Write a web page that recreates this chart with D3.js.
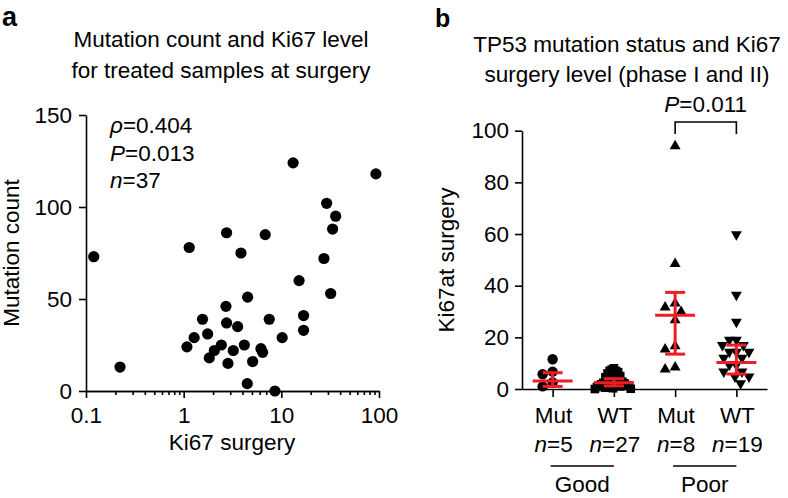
<!DOCTYPE html>
<html>
<head>
<meta charset="utf-8">
<script src="https://cdn.jsdelivr.net/npm/d3@7"></script>
<style>
  html, body { margin: 0; padding: 0; background: #fff; }
  svg { display: block; font-family: "Liberation Sans", Arial, Helvetica, sans-serif; }
</style>
</head>
<body>
<svg id="chart" width="788" height="498"></svg>
<script>
// ---------- Panel a data ----------
const ki67Surgery = [0.12,1.14,2.75,3.86,6.84,13.2,93,29.1,36,33.5,27.3,15.2,32,4.52,0.223,1.56,2.71,2.75,3.57,1.76,1.28,1.08,2.43,2.06,1.83,3.22,2.84,4.18,5.08,6.18,6.43,7.52,10.2,16.9,16.9,4.48,8.6];
const mutationCount = [73,78,86,75,85,124,118,102,95,88,72,60,53,51,13,39,46,37,35,31,29,24,25,22,18,22,15,25,16,23,21,39,29,41,33,4,0];
const aYTicks = [0, 50, 100, 150];
const aXTicks = [0.1, 1, 10, 100];
const aXTickLabels = ["0.1", "1", "10", "100"];
const aStats = [["ρ", "=0.404"], ["P", "=0.013"], ["n", "=37"]];

// ---------- Panel b data ----------
const bCategories = ["Mut", "WT", "Mut", "WT"];
const bCounts = ["5", "27", "8", "19"];
const bResponse = ["Good", "Poor"];
const mutGood = [11.5, 6.7, 5.7, 2.5, 1.0];
const wtGood = [8, 7.5, 7, 7, 6.5, 6, 5, 4.5, 4, 3.5, 3, 3, 2.8, 2.5, 2.4, 2.2, 2, 1.8, 1.5, 1.3, 1.2, 1, 0.8, 0.5, 0.3, 0.1, 0];
const mutPoor = [94, 48.5, 33.2, 31.6, 29.9, 26.7, 16.6, 15.4, 8.4, 7.6];
const wtPoor = [59.8, 36.4, 26, 19, 19, 17, 17, 14.4, 14.4, 14.4, 12, 12, 9.3, 9.3, 6.7, 6.7, 4.8, 4.8, 2.2];
const bMedian = [3.1, 2.4, 28.6, 10.3];
const bLower = [1.0, 1.2, 13.5, 5.8];
const bUpper = [6.3, 4.0, 37.4, 17.0];
const bYTicks = [0, 20, 40, 60, 80, 100];
const bPValue = "=0.011";

const svg = d3.select("#chart");
const FONT = 22.5;
const RED = "#ee1c25";

// ================= Panel a =================
const ax = d3.scaleLog().domain([0.1, 100]).range([86, 379]);
const ay = d3.scaleLinear().domain([0, 150]).range([391, 115]);

svg.append("text").attr("x", 2).attr("y", 26).attr("font-size", 27).attr("font-weight", "bold").text("a");
const aTitle = svg.append("text").attr("text-anchor", "middle").attr("font-size", FONT);
aTitle.append("tspan").attr("x", 221).attr("y", 47).text("Mutation count and Ki67 level");
aTitle.append("tspan").attr("x", 221).attr("y", 78).text("for treated samples at surgery");

function styleAxis(g) {
  g.selectAll("path, line").attr("stroke", "#000").attr("stroke-width", 1.6);
  g.selectAll("text").attr("font-size", FONT).attr("font-family", "Liberation Sans, Arial, sans-serif").attr("fill", "#000");
}

svg.append("g").attr("transform", "translate(86,0)")
  .call(d3.axisLeft(ay).tickValues(aYTicks).tickSize(7).tickPadding(7).tickSizeOuter(0))
  .call(styleAxis);

// minor log ticks
const minor = [];
for (let dec = 0.1; dec < 100; dec *= 10) for (let m = 2; m <= 9; m++) minor.push(+(dec * m).toPrecision(3));
svg.append("g").attr("transform", "translate(0,391)")
  .call(d3.axisBottom(ax).tickValues(minor).tickSize(4).tickFormat("").tickSizeOuter(0))
  .call(styleAxis);
svg.append("g").attr("transform", "translate(0,391)")
  .call(d3.axisBottom(ax).tickValues(aXTicks).tickSize(7).tickPadding(9).tickSizeOuter(0)
    .tickFormat((d, i) => aXTickLabels[i]))
  .call(styleAxis);

svg.append("text").attr("x", 232).attr("y", 450).attr("text-anchor", "middle").attr("font-size", FONT).text("Ki67 surgery");
svg.append("text").attr("transform", "translate(19,253) rotate(-90)").attr("text-anchor", "middle").attr("font-size", FONT).text("Mutation count");

const st = svg.append("g").attr("font-size", FONT);
aStats.forEach((s, i) => {
  const t = st.append("text").attr("x", 110).attr("y", 133 + i * 27.5);
  t.append("tspan").attr("font-style", "italic").text(s[0]);
  t.append("tspan").text(s[1]);
});

svg.append("g").selectAll("circle")
  .data(ki67Surgery.map((k, i) => ({ k, m: mutationCount[i] })))
  .join("circle")
  .attr("cx", d => ax(d.k)).attr("cy", d => ay(d.m)).attr("r", 5.6).attr("fill", "#000");

// ================= Panel b =================
const bx = d3.scalePoint().domain(d3.range(bCategories.length)).range([522, 767]).padding(0.5);
const by = d3.scaleLinear().domain([0, 100]).range([389, 130.7]);

svg.append("text").attr("x", 435).attr("y", 27).attr("font-size", 25).attr("font-weight", "bold").text("b");
const bTitle = svg.append("text").attr("text-anchor", "middle").attr("font-size", FONT);
bTitle.append("tspan").attr("x", 627).attr("y", 52).text("TP53 mutation status and Ki67");
bTitle.append("tspan").attr("x", 627).attr("y", 82).text("surgery level (phase I and II)");

svg.append("g").attr("transform", "translate(522,0)")
  .call(d3.axisLeft(by).tickValues(bYTicks).tickSize(7).tickPadding(6).tickSizeOuter(0))
  .call(styleAxis);
svg.append("g").attr("transform", "translate(0,389)")
  .call(d3.axisBottom(bx).tickSize(8).tickFormat("").tickSizeOuter(0))
  .call(styleAxis);

svg.append("text").attr("transform", "translate(454,260) rotate(-90)").attr("text-anchor", "middle").attr("font-size", FONT).text("Ki67at surgery");

// category labels
bCategories.forEach((c, i) => {
  svg.append("text").attr("x", bx(i) + 1).attr("y", 423).attr("text-anchor", "middle").attr("font-size", FONT).text(c);
  const t = svg.append("text").attr("x", bx(i) + 1).attr("y", 452).attr("text-anchor", "middle").attr("font-size", FONT);
  t.append("tspan").attr("font-style", "italic").text("n");
  t.append("tspan").text("=" + bCounts[i]);
});
bResponse.forEach((r, j) => {
  const x1 = bx(j * 2) - 2, x2 = bx(j * 2 + 1);
  svg.append("line").attr("x1", x1).attr("x2", x2).attr("y1", 466).attr("y2", 466).attr("stroke", "#000").attr("stroke-width", 1.6);
  svg.append("text").attr("x", (x1 + x2) / 2).attr("y", 492).attr("text-anchor", "middle").attr("font-size", FONT).text(r);
});

// beeswarm layout
function swarm(values, d, maxHalf) {
  const pts = values.map((v, i) => ({ v, y: by(v), i, dx: 0 }));
  const order = pts.slice().sort((a, b) => a.y - b.y);
  const placed = [];
  const step = 2;
  order.forEach(p => {
    for (let k = 0; k < 200; k++) {
      const off = k === 0 ? 0 : (k % 2 === 1 ? -1 : 1) * Math.ceil(k / 2) * step;
      if (placed.every(q => (q.dx - off) ** 2 + (q.y - p.y) ** 2 >= d * d)) { p.dx = off; break; }
    }
    placed.push(p);
  });
  const ext = d3.max(pts, p => Math.abs(p.dx)) || 0;
  if (ext > maxHalf) pts.forEach(p => p.dx *= maxHalf / ext);
  return pts;
}

const groups = [mutGood, wtGood, mutPoor, wtPoor];
const symbols = [d3.symbolCircle, d3.symbolSquare, d3.symbolTriangle, d3.symbolTriangle];
const symSizes = [85, 75, 52, 52];
const rot = [0, 0, 0, 180];
const gPts = svg.append("g");
groups.forEach((vals, gi) => {
  const pts = swarm(vals, 10, gi === 1 ? 19 : 14);
  gPts.selectAll(null).data(pts).join("path")
    .attr("d", d3.symbol().type(symbols[gi]).size(symSizes[gi]))
    .attr("transform", p => `translate(${bx(gi) + p.dx},${p.y}) rotate(${rot[gi]})`)
    .attr("fill", "#000");
});

// median + IQR in red
const gErr = svg.append("g").attr("stroke", RED).attr("stroke-width", 3);
bMedian.forEach((m, i) => {
  const cx = bx(i);
  gErr.append("line").attr("x1", cx).attr("x2", cx).attr("y1", by(bLower[i])).attr("y2", by(bUpper[i]));
  gErr.append("line").attr("x1", cx - 20).attr("x2", cx + 20).attr("y1", by(m)).attr("y2", by(m));
  gErr.append("line").attr("x1", cx - 10).attr("x2", cx + 10).attr("y1", by(bUpper[i])).attr("y2", by(bUpper[i]));
  gErr.append("line").attr("x1", cx - 10).attr("x2", cx + 10).attr("y1", by(bLower[i])).attr("y2", by(bLower[i]));
});

// significance bracket
const bxL = bx(2), bxR = bx(3);
svg.append("path").attr("d", `M${bxL},134 V122 H${bxR} V134`).attr("fill", "none").attr("stroke", "#000").attr("stroke-width", 1.6);
const pt = svg.append("text").attr("x", (bxL + bxR) / 2).attr("y", 112).attr("text-anchor", "middle").attr("font-size", FONT);
pt.append("tspan").attr("font-style", "italic").text("P");
pt.append("tspan").text(bPValue);
</script>
</body>
</html>
